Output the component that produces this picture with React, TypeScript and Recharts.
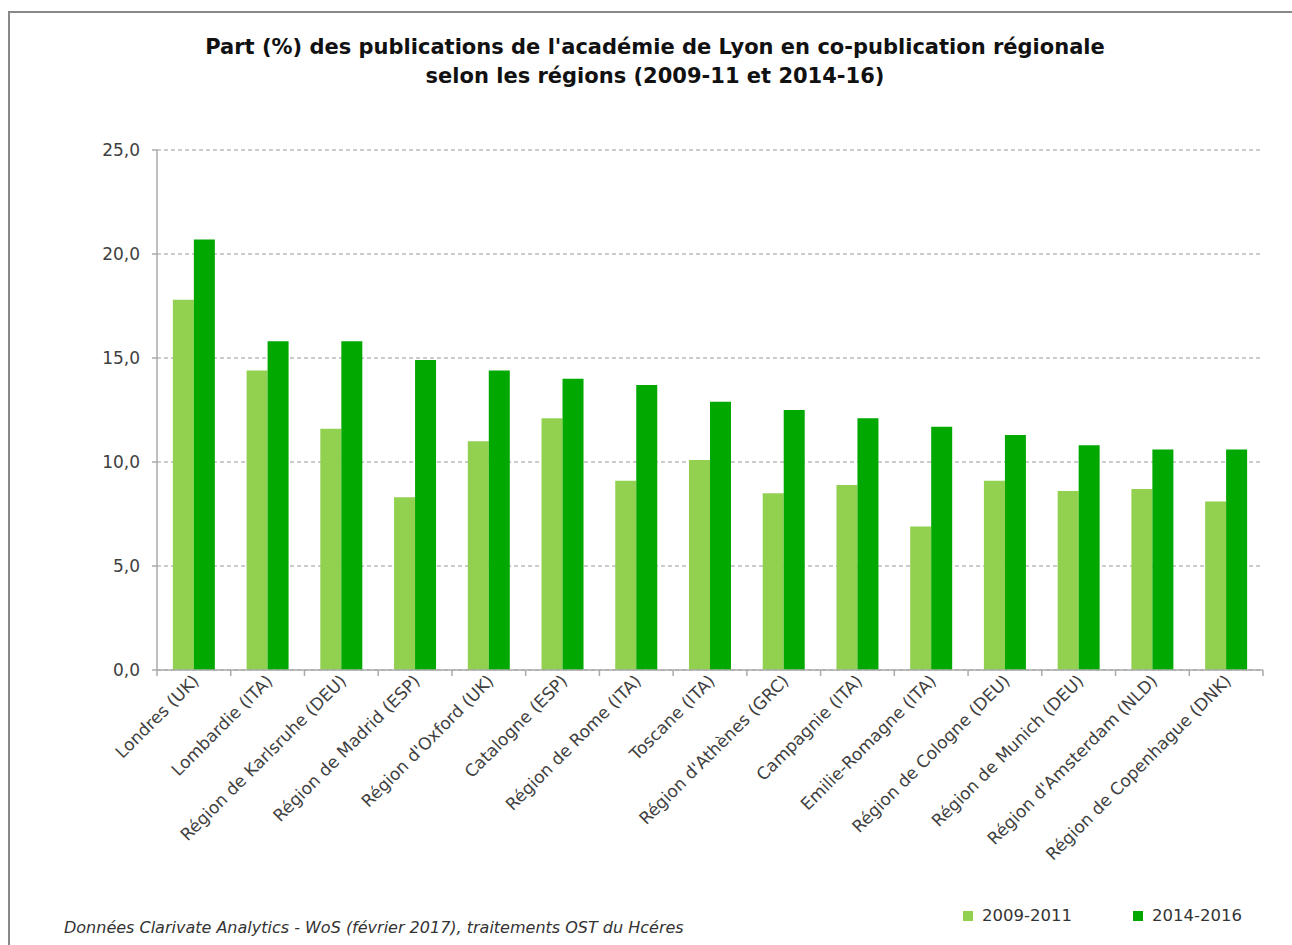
import { BarChart, Bar, XAxis, YAxis, CartesianGrid } from "recharts";

const regions = [
  "Londres (UK)",
  "Lombardie (ITA)",
  "Région de Karlsruhe (DEU)",
  "Région de Madrid (ESP)",
  "Région d'Oxford (UK)",
  "Catalogne (ESP)",
  "Région de Rome (ITA)",
  "Toscane (ITA)",
  "Région d'Athènes (GRC)",
  "Campagnie (ITA)",
  "Emilie-Romagne (ITA)",
  "Région de Cologne (DEU)",
  "Région de Munich (DEU)",
  "Région d'Amsterdam (NLD)",
  "Région de Copenhague (DNK)",
];

const share2009 = [17.8, 14.4, 11.6, 8.3, 11.0, 12.1, 9.1, 10.1, 8.5, 8.9, 6.9, 9.1, 8.6, 8.7, 8.1];
const share2014 = [20.7, 15.8, 15.8, 14.9, 14.4, 14.0, 13.7, 12.9, 12.5, 12.1, 11.7, 11.3, 10.8, 10.6, 10.6];

const yTicks = [0, 5, 10, 15, 20, 25];

const series = [
  { key: "p2009", name: "2009-2011", color: "#92D050" },
  { key: "p2014", name: "2014-2016", color: "#00A800" },
];

const data = regions.map((r, i) => ({ region: r, p2009: share2009[i], p2014: share2014[i] }));

const fmt = (v: number) => v.toFixed(1).replace(".", ",");

const FONT = "'DejaVu Sans', sans-serif";

function RegionTick(props: any) {
  const { x, y, payload, index } = props;
  const half = payload && payload.offset ? payload.offset : 36.9;
  return (
    <g>
      {index === 0 && <line x1={x - half} x2={x - half} y1={y} y2={y + 6} stroke="#aaa" strokeWidth={1.5} />}
      <line x1={x + half} x2={x + half} y1={y} y2={y + 6} stroke="#aaa" strokeWidth={1.5} />
      <text
        x={x + 6}
        y={y + 12}
        transform={`rotate(-45, ${x + 6}, ${y + 12})`}
        textAnchor="end"
        fontSize={17}
        fontFamily={FONT}
        fill="#404040"
      >
        {payload.value}
      </text>
    </g>
  );
}

export default function App() {
  return (
    <div
      style={{
        position: "absolute",
        left: 8,
        top: 11,
        width: 1284,
        height: 934,
        boxSizing: "border-box",
        borderLeft: "2px solid #888",
        borderTop: "2px solid #888",
        background: "#fff",
        overflow: "hidden",
      }}
    >
      <div
        style={{
          position: "absolute",
          left: 0,
          top: 20,
          width: 1290,
          textAlign: "center",
          fontFamily: FONT,
          fontWeight: "bold",
          fontSize: 21,
          lineHeight: "29px",
          color: "#111",
        }}
      >
        Part (%) des publications de l'académie de Lyon en co-publication régionale
        <br />
        selon les régions (2009-11 et 2014-16)
      </div>

      <div style={{ position: "absolute", left: 0, top: 0 }}>
        <BarChart
          width={1270}
          height={900}
          data={data}
          margin={{ top: 137, right: 17, left: 87, bottom: 23 }}
          barCategoryGap="21.5%"
          barGap={0}
        >
          <CartesianGrid vertical={false} stroke="#999" strokeDasharray="4 3" />
          <XAxis
            dataKey="region"
            interval={0}
            height={220}
            tickSize={0}
            tickMargin={0}
            tickLine={false}
            axisLine={{ stroke: "#aaa", strokeWidth: 1.5 }}
            tick={<RegionTick />}
          />
          <YAxis
            width={60}
            domain={[0, 25]}
            ticks={yTicks}
            tickFormatter={fmt}
            tickSize={5}
            tickMargin={12}
            axisLine={{ stroke: "#aaa", strokeWidth: 1.5 }}
            tickLine={{ stroke: "#aaa", strokeWidth: 1.5 }}
            tick={{ fontSize: 17, fontFamily: FONT, fill: "#404040" }}
          />
          {series.map((s) => (
            <Bar key={s.key} dataKey={s.key} name={s.name} fill={s.color} isAnimationActive={false} />
          ))}
        </BarChart>
      </div>

      <div
        style={{
          position: "absolute",
          left: 54,
          top: 906,
          fontFamily: FONT,
          fontStyle: "italic",
          fontSize: 16,
          lineHeight: "18px",
          color: "#333",
          whiteSpace: "nowrap",
        }}
      >
        Données Clarivate Analytics - WoS (février 2017), traitements OST du Hcéres
      </div>

      <div
        style={{
          position: "absolute",
          left: 953,
          top: 893,
          display: "flex",
          alignItems: "center",
          fontFamily: FONT,
          fontSize: 16.5,
          lineHeight: "20px",
          color: "#333",
        }}
      >
        {series.map((s, i) => (
          <div key={s.key} style={{ display: "flex", alignItems: "center", marginLeft: i === 0 ? 0 : 61 }}>
            <span style={{ width: 10, height: 10, background: s.color, marginRight: 9, display: "inline-block" }} />
            <span>{s.name}</span>
          </div>
        ))}
      </div>
    </div>
  );
}
